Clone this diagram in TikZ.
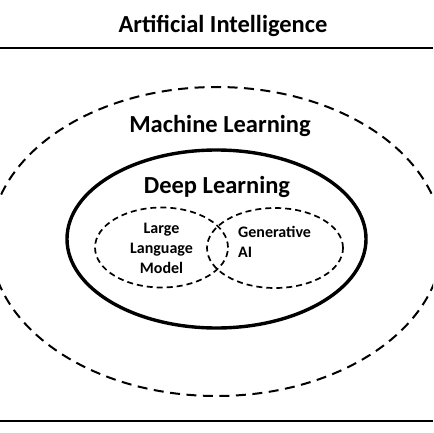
\documentclass[tikz,border=0pt]{standalone}
\usepackage{fontspec}
\setmainfont{Carlito}
\usetikzlibrary{shapes.geometric}
\tikzset{
  bigtext/.style={font=\bfseries\fontsize{24.5}{29}\selectfont, inner sep=0pt, anchor=base},
  smalltext/.style={font=\bfseries\fontsize{16}{20}\selectfont, inner sep=0pt, anchor=base},
  outerell/.style={draw, ellipse, line width=2pt, dash pattern=on 10pt off 6.5pt, inner sep=0pt, outer sep=0pt},
  deepell/.style={draw, ellipse, line width=3.4pt, inner sep=0pt, outer sep=0pt},
  innerell/.style={draw, ellipse, line width=1.7pt, dash pattern=on 6pt off 4pt, inner sep=0pt, outer sep=0pt},
  rule/.style={line width=2.2pt}
}
\begin{document}
\begin{tikzpicture}[x=1pt,y=-1pt]
\clip (0,0) rectangle (433,433);
\fill[white] (0,0) rectangle (433,433);
\coordinate (tl) at (0,48);
\coordinate (tr) at (433,48);
\coordinate (bl) at (0,421);
\coordinate (br) at (433,421);
\draw[rule] (tl) -- (tr);
\draw[rule] (bl) -- (br);
\node[bigtext] (ai) at (223,33) {Artificial Intelligence};
\node[outerell, minimum width=452pt, minimum height=309pt] (ml) at (216.5,241.5) {};
\node[bigtext] (mltext) at (220,132) {Machine Learning};
\node[deepell, minimum width=299pt, minimum height=178pt] (dl) at (216.5,239) {};
\node[bigtext] (dltext) at (217,193) {Deep Learning};
\node[innerell, minimum width=133pt, minimum height=80pt] (llm) at (161.5,247.5) {};
\node[innerell, minimum width=136pt, minimum height=80pt] (gen) at (275,248) {};
\node[smalltext, align=center] (llmtext) at (161.5,273) {Large\\Language\\Model};
\node[smalltext, align=left, anchor=base west] (gentext) at (238,257) {Generative\\AI};
\end{tikzpicture}
\end{document}
